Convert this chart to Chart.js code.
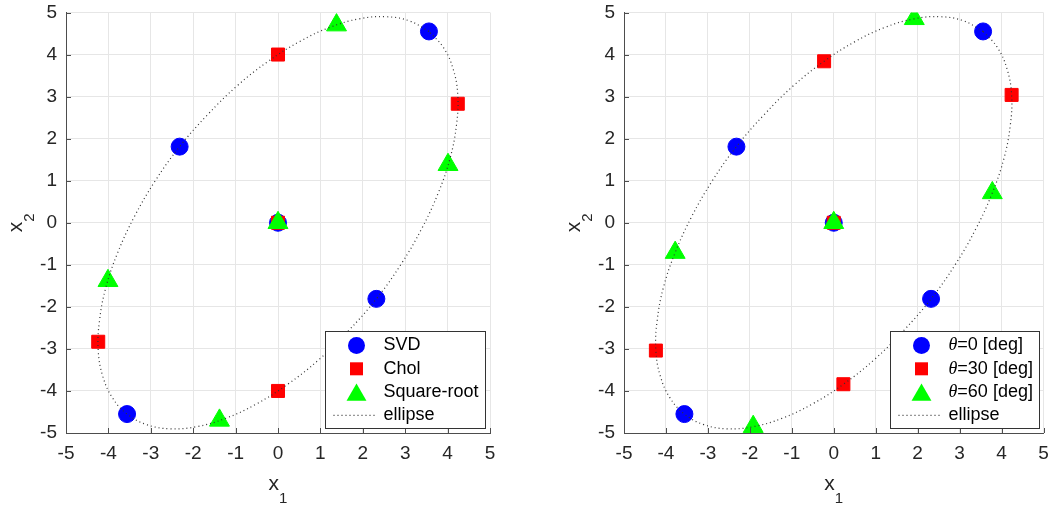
<!DOCTYPE html>
<html>
<head>
<meta charset="utf-8">
<script src="https://cdn.jsdelivr.net/npm/chart.js@4.4.1/dist/chart.umd.min.js"></script>
<style>
  html, body { margin: 0; padding: 0; background: #fff; }
  canvas { position: absolute; top: 0; }
  #left { left: 0; }
  #right { left: 528px; }
</style>
</head>
<body>
<canvas id="left" width="528" height="506"></canvas>
<canvas id="right" width="528" height="506"></canvas>
<script>
// ===== DATA =====
const tickVals = [-5, -4, -3, -2, -1, 0, 1, 2, 3, 4, 5];
const tickLabels = ['-5', '-4', '-3', '-2', '-1', '0', '1', '2', '3', '4', '5'];

// sigma points (center + 4 points)
const svdX = [0, 3.56, -3.56, -2.32, 2.32];
const svdY = [0, 4.55, -4.55, 1.81, -1.81];
const cholX = [0, 4.24, -4.24, 0, 0];
const cholY = [0, 2.83, -2.83, 4.00, -4.00];
const sqrtX = [0, 4.01, -4.01, 1.38, -1.38];
const sqrtY = [0, 1.38, -1.38, 4.70, -4.70];
const th30X = [0, 4.24, -4.24, -0.23, 0.23];
const th30Y = [0, 3.04, -3.04, 3.84, -3.84];
const th60X = [0, 3.78, -3.78, 1.92, -1.92];
const th60Y = [0, 0.71, -0.71, 4.85, -4.85];

// ellipse outline
const ellipseX = [3.56, 3.10, 2.55, 1.92, 1.23, 0.51, -0.23, -0.96, -1.66, -2.32, -2.90, -3.39,
  -3.78, -4.06, -4.21, -4.24, -4.13, -3.90, -3.56, -3.10, -2.55, -1.92, -1.23, -0.51,
  0.23, 0.96, 1.66, 2.32, 2.90, 3.39, 3.78, 4.06, 4.21, 4.24, 4.13, 3.90, 3.56];
const ellipseY = [4.55, 4.80, 4.90, 4.85, 4.65, 4.31, 3.84, 3.26, 2.57, 1.81, 0.99, 0.14,
  -0.71, -1.54, -2.33, -3.04, -3.66, -4.17, -4.55, -4.80, -4.90, -4.85, -4.65, -4.31,
  -3.84, -3.26, -2.57, -1.81, -0.99, -0.14, 0.71, 1.54, 2.33, 3.04, 3.66, 4.17, 4.55];

const leftLabels = ['SVD', 'Chol', 'Square-root', 'ellipse'];
const rightLabels = ['θ=0 [deg]', 'θ=30 [deg]', 'θ=60 [deg]', 'ellipse'];

const FONT = "'Liberation Sans', Arial, Helvetica, sans-serif";
const TEXT = '#262626';
const AXIS = '#4d4d4d';

function pts(xs, ys) {
    return xs.map((x, i) => ({ x: x, y: ys[i] }));
}

function markerSet(label, xs, ys, style, r, color, order) {
    return {
        label: label,
        data: pts(xs, ys),
        pointStyle: style,
        pointRadius: r,
        backgroundColor: color,
        borderColor: color,
        pointBorderWidth: 1,
        showLine: false,
        order: order
    };
}

function ellipseSet(label) {
    return {
        label: label,
        data: pts(ellipseX, ellipseY),
        showLine: true,
        pointRadius: 0,
        borderColor: '#333',
        borderWidth: 1.2,
        borderDash: [1, 3],
        tension: 0.4,
        fill: false,
        order: 0
    };
}

// ===== Marker drawing (legend) =====
function drawMarker(ctx, style, x, y, r, color) {
    ctx.fillStyle = color;
    ctx.beginPath();
    if (style === 'circle') {
        ctx.arc(x, y, r, 0, Math.PI * 2);
    } else if (style === 'rect') {
        const h = r * Math.SQRT1_2;
        ctx.rect(x - h, y - h, 2 * h, 2 * h);
    } else if (style === 'triangle') {
        const yc = y + r / 4;
        ctx.moveTo(x, yc - r);
        ctx.lineTo(x + r * 0.866, yc + r / 2);
        ctx.lineTo(x - r * 0.866, yc + r / 2);
        ctx.closePath();
    }
    ctx.fill();
}

function labelWidth(ctx, text) {
    if (text.startsWith('θ')) {
        ctx.font = "italic 18px 'Liberation Serif', serif";
        const w = ctx.measureText('θ').width;
        ctx.font = '18px ' + FONT;
        return w + ctx.measureText(text.slice(1)).width;
    }
    ctx.font = '18px ' + FONT;
    return ctx.measureText(text).width;
}

function drawLabel(ctx, text, x, y) {
    ctx.fillStyle = '#000';
    ctx.textAlign = 'left';
    ctx.textBaseline = 'middle';
    if (text.startsWith('θ')) {
        ctx.font = "italic 18px 'Liberation Serif', serif";
        ctx.fillText('θ', x, y);
        const w = ctx.measureText('θ').width;
        ctx.font = '18px ' + FONT;
        ctx.fillText(text.slice(1), x + w, y);
    } else {
        ctx.font = '18px ' + FONT;
        ctx.fillText(text, x, y);
    }
}

// ===== Decorations: inward ticks, axis titles, legend =====
const decor = {
    id: 'decor',
    afterDraw(chart) {
        const ctx = chart.ctx;
        const a = chart.chartArea;
        const sx = chart.scales.x, sy = chart.scales.y;
        ctx.save();

        // inward tick marks
        ctx.strokeStyle = AXIS;
        ctx.lineWidth = 1;
        ctx.beginPath();
        tickVals.forEach(v => {
            const px = Math.round(sx.getPixelForValue(v)) + 0.5;
            const py = Math.round(sy.getPixelForValue(v)) + 0.5;
            ctx.moveTo(px, a.bottom);
            ctx.lineTo(px, a.bottom - 5);
            ctx.moveTo(a.left, py);
            ctx.lineTo(a.left + 5, py);
        });
        ctx.stroke();

        // axis titles x1 / x2
        ctx.fillStyle = TEXT;
        ctx.textAlign = 'left';
        ctx.textBaseline = 'alphabetic';
        ctx.font = '21px ' + FONT;
        const wx = ctx.measureText('x').width;
        ctx.font = '15px ' + FONT;
        const ws = ctx.measureText('1').width;
        const cx = (a.left + a.right) / 2 - (wx + ws) / 2;
        ctx.font = '21px ' + FONT;
        ctx.fillText('x', cx, 490);
        ctx.font = '15px ' + FONT;
        ctx.fillText('1', cx + wx, 503);

        ctx.save();
        ctx.translate(a.left - 44, (a.top + a.bottom) / 2);
        ctx.rotate(-Math.PI / 2);
        ctx.font = '21px ' + FONT;
        ctx.fillText('x', -(wx + ws) / 2, 0);
        ctx.font = '15px ' + FONT;
        ctx.fillText('2', -(wx + ws) / 2 + wx, 12);
        ctx.restore();

        // legend box, bottom right inside the axes
        const sets = chart.data.datasets;
        let maxW = 0;
        sets.forEach(ds => { maxW = Math.max(maxW, labelWidth(ctx, ds.label)); });
        const bw = Math.round(58 + maxW + 7);
        const bh = 97;
        const bx = Math.round(a.right - 5 - bw) + 0.5;
        const by = Math.round(a.bottom - 5 - bh) + 0.5;
        ctx.fillStyle = '#fff';
        ctx.fillRect(bx, by, bw, bh);
        ctx.strokeStyle = '#333';
        ctx.lineWidth = 1;
        ctx.strokeRect(bx, by, bw, bh);

        sets.forEach((ds, i) => {
            const ry = by + 14 + i * 23.3;
            if (ds.showLine) {
                ctx.save();
                ctx.strokeStyle = '#333';
                ctx.lineWidth = 1.2;
                ctx.setLineDash([1, 3]);
                ctx.beginPath();
                ctx.moveTo(bx + 8, ry);
                ctx.lineTo(bx + 50, ry);
                ctx.stroke();
                ctx.restore();
            } else {
                drawMarker(ctx, ds.pointStyle, bx + 31, ry, ds.pointRadius, ds.backgroundColor);
            }
            drawLabel(ctx, ds.label, bx + 58, ry);
        });

        ctx.restore();
    }
};

// ===== Chart factory =====
function axisOpts(isX) {
    return {
        type: 'linear',
        min: -5,
        max: 5,
        afterBuildTicks: s => { s.ticks = tickVals.map(v => ({ value: v })); },
        afterFit: s => {
            if (isX) { s.height = 73; s.paddingLeft = 0; s.paddingRight = 0; }
            else { s.width = 66; s.paddingTop = 0; s.paddingBottom = 0; }
        },
        grid: { color: '#e6e6e6', lineWidth: 1, drawTicks: false },
        border: { display: true, color: AXIS, width: 1 },
        ticks: {
            padding: 9,
            color: TEXT,
            font: { family: FONT, size: 19 },
            maxRotation: 0,
            autoSkip: false,
            callback: (v, i) => tickLabels[i]
        }
    };
}

function makeChart(id, datasets, padL, padR) {
    return new Chart(document.getElementById(id), {
        type: 'scatter',
        data: { datasets: datasets },
        options: {
            responsive: false,
            animation: false,
            layout: { padding: { left: padL, right: padR, top: 10, bottom: 0 } },
            plugins: { legend: { display: false }, tooltip: { enabled: false } },
            scales: { x: axisOpts(true), y: axisOpts(false) }
        },
        plugins: [decor]
    });
}

makeChart('left', [
    markerSet(leftLabels[0], svdX, svdY, 'circle', 8.5, '#0000ff', 3),
    markerSet(leftLabels[1], cholX, cholY, 'rect', 9.2, '#ff0000', 2),
    markerSet(leftLabels[2], sqrtX, sqrtY, 'triangle', 11.5, '#00ff00', 1),
    ellipseSet(leftLabels[3])
], 0, 38);

makeChart('right', [
    markerSet(rightLabels[0], svdX, svdY, 'circle', 8.5, '#0000ff', 3),
    markerSet(rightLabels[1], th30X, th30Y, 'rect', 9.2, '#ff0000', 2),
    markerSet(rightLabels[2], th60X, th60Y, 'triangle', 11.5, '#00ff00', 1),
    ellipseSet(rightLabels[3])
], 30, 10);
</script>
</body>
</html>
